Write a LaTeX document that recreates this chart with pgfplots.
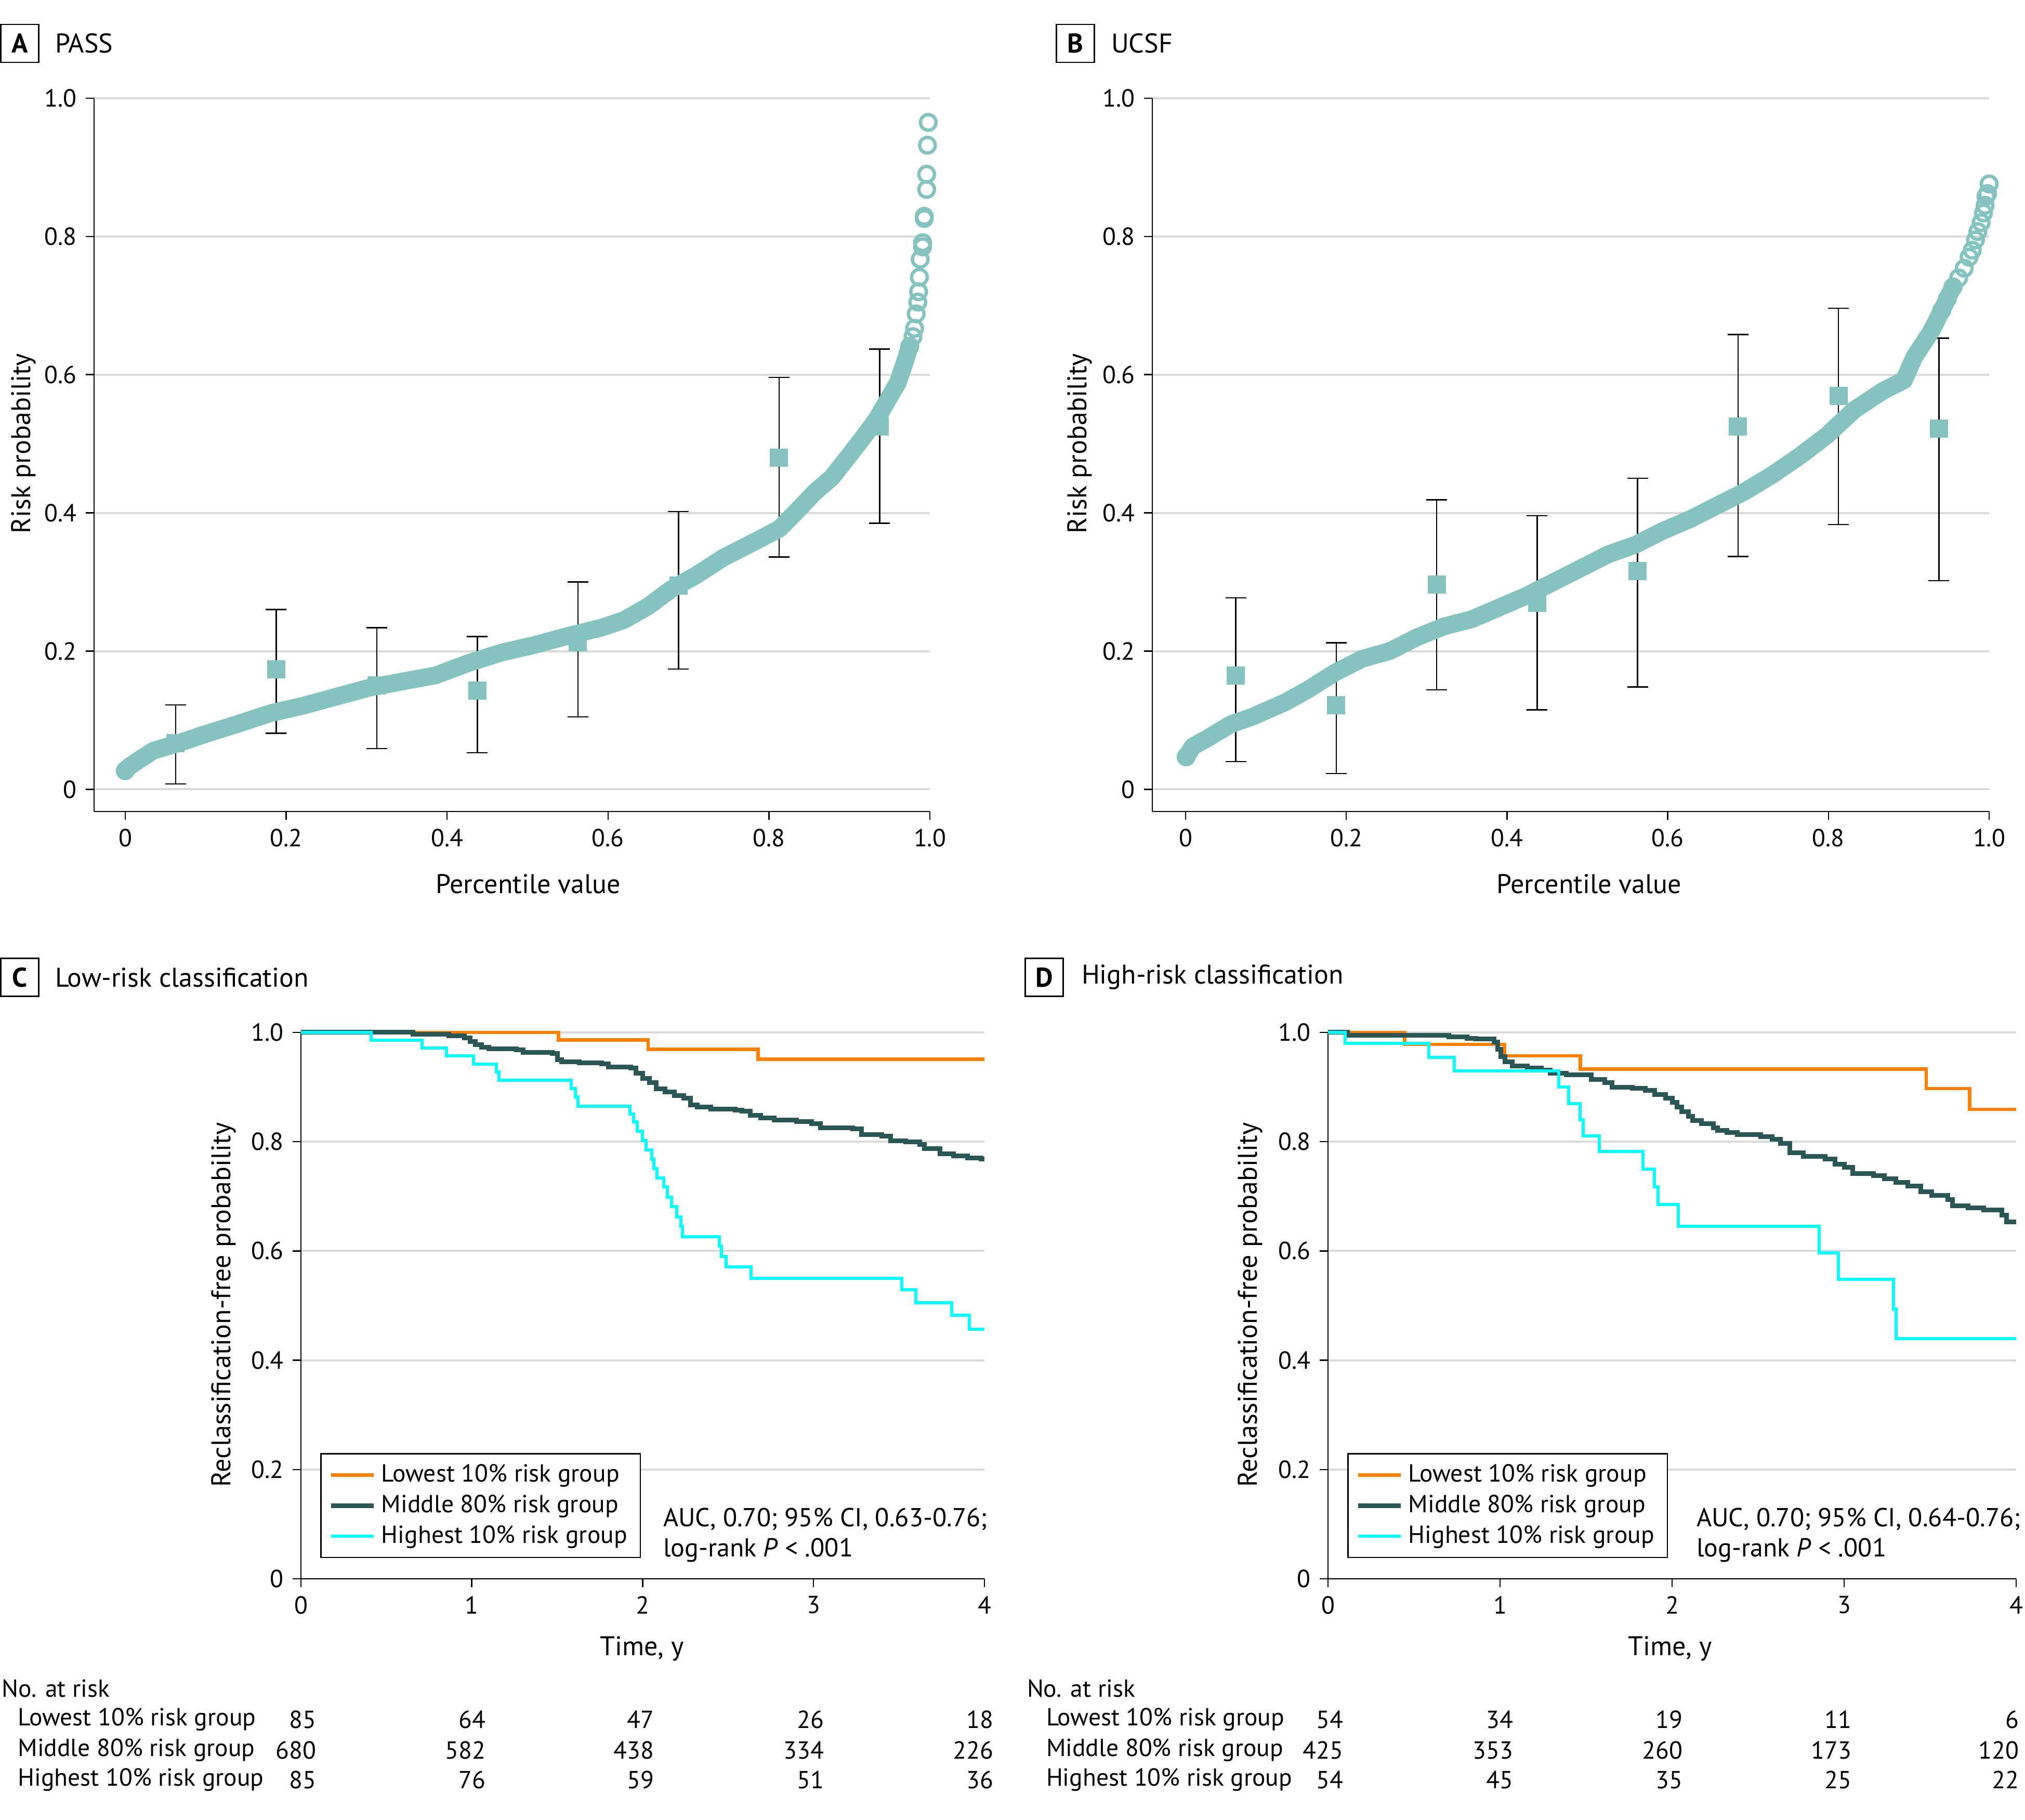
\documentclass[border=0pt]{standalone}
\usepackage{fontspec}
\setmainfont{PT Sans}
\usepackage{pgfplots}
\pgfplotsset{compat=1.18}
\definecolor{tealc}{HTML}{85C3C1}
\definecolor{orangec}{HTML}{FF8000}
\definecolor{cyanc}{HTML}{00FFFF}
\definecolor{slatec}{HTML}{2A5655}
\definecolor{gridc}{HTML}{D9D9D9}
\newcommand{\fs}{\fontsize{9.5}{11.6}\selectfont}
\newcommand{\fl}{\fontsize{10.4}{12.5}\selectfont}
\newcommand{\fa}{\fontsize{10}{11.6}\selectfont}
\pgfplotsset{
 base/.style={
  scale only axis, axis lines=left, axis line style={-, line width=0.5pt, black},
  tick align=outside, major tick length=3.2pt, tick style={black, line width=0.5pt},
  ymajorgrids, grid style={gridc, line width=0.8pt},
  clip=false, font=\fs,
  /pgf/number format/assume math mode=true,
  ytick={0,0.2,0.4,0.6,0.8,1.0},
  yticklabels={0,0.2,0.4,0.6,0.8,1.0},
 },
 scat/.style={base, width=321.6pt, height=274.4pt, xmax=1, ymin=-0.032, ymax=1,
  xtick={0,0.2,0.4,0.6,0.8,1.0}, xticklabels={0,0.2,0.4,0.6,0.8,1.0}},
 km/.style={base, height=210.2pt, xmin=0, xmax=4, ymin=0, ymax=1,
  xtick={0,1,2,3,4}, xticklabels={0,1,2,3,4},
  legend cell align=left,
  legend style={draw=black, line width=0.5pt, font=\fs, inner xsep=3pt, inner ysep=2pt,
    row sep=-0.5pt, anchor=south west},
  legend image code/.code={\path (0pt,0pt) -- (16.5pt,0pt);\draw[##1] (2.5pt,0pt) -- (14.5pt,0pt);}},
 band/.style={tealc, line width=6.8pt, line cap=round, line join=round},
 circ/.style={only marks, mark=o, mark size=3pt, mark options={tealc, line width=1.3pt}},
 sq/.style={only marks, mark=square*, mark size=3.3pt, mark options={tealc, draw=tealc},
  error bars/.cd, y dir=both, y explicit, error mark=-,
  error bar style={black, line width=0.5pt},
  error mark options={black, line width=0.5pt, mark size=4pt, rotate=90}},
}
\begin{document}
\begin{tikzpicture}
\useasboundingbox (0,0) rectangle (779.2pt,700.2pt);

% ---------- Panel A ----------
\begin{axis}[scat, at={(36.2pt,388pt)}, anchor=south west, xmin=-0.0388]
\addplot[sq] table[x=x, y=y, y error plus=ep, y error minus=em] {
x y ep em
0.0625 0.067 0.055 0.059
0.1875 0.174 0.086 0.093
0.3125 0.150 0.084 0.091
0.4375 0.143 0.078 0.090
0.5625 0.213 0.087 0.108
0.6875 0.295 0.107 0.121
0.8125 0.480 0.116 0.144
0.9375 0.525 0.112 0.140
};
\addplot[band] coordinates {
(0,0.027) (0.005,0.033) (0.015,0.041) (0.035,0.056) (0.064,0.066) (0.097,0.079)
(0.138,0.094) (0.18,0.11) (0.221,0.121) (0.262,0.134) (0.303,0.147) (0.344,0.156)
(0.386,0.165) (0.427,0.183) (0.468,0.198) (0.509,0.209) (0.55,0.222) (0.592,0.234)
(0.62,0.245) (0.65,0.265) (0.679,0.29) (0.71,0.31) (0.743,0.335) (0.78,0.357)
(0.813,0.377) (0.835,0.403) (0.857,0.43) (0.878,0.451) (0.899,0.482) (0.917,0.509)
(0.934,0.536) (0.947,0.562) (0.96,0.588) (0.968,0.615) (0.975,0.641)};
\addplot[circ] coordinates {
(0,0.027) (0.975,0.641) (0.979,0.655) (0.981,0.667) (0.983,0.688) (0.985,0.705) (0.986,0.72)
(0.987,0.741) (0.988,0.767) (0.991,0.785) (0.991,0.791) (0.993,0.826) (0.993,0.829)
(0.996,0.868) (0.996,0.89) (0.997,0.932) (0.998,0.965)};
\end{axis}

% ---------- Panel B ----------
\begin{axis}[scat, at={(443.4pt,388pt)}, anchor=south west, width=322pt, xmin=-0.0414]
\addplot[sq] table[x=x, y=y, y error plus=ep, y error minus=em] {
x y ep em
0.0625 0.165 0.112 0.125
0.1875 0.122 0.090 0.099
0.3125 0.296 0.123 0.152
0.4375 0.270 0.126 0.155
0.5625 0.316 0.134 0.168
0.6875 0.525 0.133 0.188
0.8125 0.569 0.127 0.186
0.9375 0.522 0.131 0.220
};
\addplot[band] coordinates {
(0.0007,0.047) (0.009,0.062) (0.029,0.075) (0.056,0.094) (0.083,0.105) (0.124,0.126)
(0.152,0.144) (0.186,0.169) (0.22,0.189) (0.254,0.2) (0.288,0.22) (0.322,0.236)
(0.356,0.246) (0.39,0.263) (0.424,0.28) (0.458,0.3) (0.492,0.32) (0.526,0.34)
(0.56,0.354) (0.594,0.374) (0.628,0.391) (0.662,0.411) (0.696,0.431) (0.73,0.455)
(0.764,0.482) (0.798,0.512) (0.832,0.549) (0.867,0.576) (0.894,0.592) (0.907,0.626)
(0.928,0.663) (0.941,0.693) (0.955,0.727)};
\addplot[circ] coordinates {
(0.0007,0.047) (0.941,0.693) (0.948,0.71) (0.955,0.727) (0.962,0.74) (0.969,0.754) (0.975,0.77)
(0.979,0.78) (0.983,0.795) (0.986,0.807) (0.99,0.82) (0.993,0.834) (0.995,0.845)
(0.996,0.858) (0.998,0.862) (1.0,0.876)};
\end{axis}

% ---------- Panel C ----------
\begin{axis}[km, at={(115.8pt,92.8pt)}, anchor=south west, width=263pt,
  legend style={at={(axis cs:0.113,0.038)}}]
\addplot[const plot mark left, orangec, line width=1.3pt] coordinates {
(0,1) (1.507,0.986) (2.032,0.969) (2.676,0.951) (4,0.951)};
\addlegendentry{Lowest 10\% risk group}
\addplot[const plot mark left, slatec, line width=1.8pt] coordinates {
(0,1) (0.655,0.997) (0.866,0.994) (0.958,0.99) (0.99,0.983) (1.02,0.978) (1.056,0.973)
(1.10,0.97) (1.26,0.968) (1.30,0.963) (1.47,0.961) (1.50,0.95) (1.525,0.946) (1.63,0.944)
(1.76,0.942) (1.80,0.937) (1.93,0.935) (1.96,0.925) (2.0,0.916) (2.04,0.908) (2.08,0.897)
(2.13,0.891) (2.185,0.884) (2.24,0.88) (2.28,0.867) (2.32,0.863) (2.40,0.86) (2.54,0.858)
(2.58,0.856) (2.63,0.848) (2.69,0.843) (2.77,0.84) (2.9,0.837) (2.99,0.833) (3.04,0.825)
(3.23,0.823) (3.28,0.813) (3.40,0.81) (3.45,0.802) (3.54,0.80) (3.62,0.795) (3.65,0.787)
(3.74,0.778) (3.82,0.774) (3.9,0.77) (3.98,0.768) (4.0,0.768)};
\addlegendentry{Middle 80\% risk group}
\addplot[const plot mark left, cyanc, line width=1.2pt] coordinates {
(0,1) (0.41,0.986) (0.708,0.971) (0.853,0.957) (1.01,0.942) (1.143,0.928) (1.16,0.912)
(1.583,0.897) (1.605,0.882) (1.62,0.865) (1.926,0.851) (1.947,0.836) (1.968,0.819)
(2.0,0.802) (2.02,0.785) (2.053,0.768) (2.066,0.751) (2.085,0.734) (2.122,0.717)
(2.145,0.698) (2.17,0.681) (2.2,0.662) (2.225,0.645) (2.233,0.626) (2.449,0.609)
(2.462,0.59) (2.488,0.571) (2.633,0.55) (3.517,0.529) (3.597,0.505) (3.808,0.482)
(3.913,0.457) (4,0.457)};
\addlegendentry{Highest 10\% risk group}
\end{axis}

% ---------- Panel D ----------
\begin{axis}[km, at={(511pt,92.8pt)}, anchor=south west, width=264.8pt,
  legend style={at={(axis cs:0.112,0.038)}}]
\addplot[const plot mark left, orangec, line width=1.3pt] coordinates {
(0,1) (0.445,0.978) (1.025,0.957) (1.466,0.933) (3.477,0.897) (3.729,0.859) (4,0.859)};
\addlegendentry{Lowest 10\% risk group}
\addplot[const plot mark left, slatec, line width=1.8pt] coordinates {
(0,1) (0.112,0.995) (0.702,0.992) (0.808,0.989) (0.86,0.988) (0.965,0.982) (0.986,0.969)
(1.005,0.956) (1.03,0.946) (1.07,0.939) (1.16,0.935) (1.24,0.931) (1.29,0.925) (1.385,0.922)
(1.53,0.914) (1.61,0.908) (1.65,0.9) (1.77,0.898) (1.845,0.894) (1.90,0.886) (1.963,0.88)
(2.0,0.872) (2.03,0.863) (2.055,0.855) (2.094,0.846) (2.12,0.839) (2.17,0.833) (2.24,0.825)
(2.265,0.821) (2.32,0.817) (2.38,0.813) (2.515,0.809) (2.58,0.804) (2.63,0.797) (2.684,0.78)
(2.763,0.773) (2.89,0.768) (2.947,0.759) (3.0,0.753) (3.05,0.742) (3.17,0.738) (3.235,0.732)
(3.3,0.725) (3.37,0.719) (3.445,0.708) (3.51,0.702) (3.603,0.694) (3.63,0.683) (3.72,0.679)
(3.81,0.675) (3.918,0.666) (3.945,0.653) (4,0.653)};
\addlegendentry{Middle 80\% risk group}
\addplot[const plot mark left, cyanc, line width=1.2pt] coordinates {
(0,1) (0.099,0.98) (0.585,0.954) (0.734,0.93) (1.34,0.9) (1.40,0.87) (1.464,0.84)
(1.482,0.811) (1.577,0.782) (1.831,0.75) (1.897,0.717) (1.918,0.685) (2.036,0.645)
(2.855,0.597) (2.968,0.548) (3.288,0.494) (3.301,0.44) (4,0.44)};
\addlegendentry{Highest 10\% risk group}
\end{axis}

% ---------- Text ----------
\tikzset{lab/.style={draw, line width=0.5pt, minimum width=14.6pt, minimum height=14.6pt, inner sep=0pt, font=\fl\bfseries}}
\node[lab] at (7.6pt,683.5pt) {A};
\node[anchor=west, font=\fl, inner sep=0pt] at (21pt,683.5pt) {PASS};
\node[lab] at (413.8pt,683.5pt) {B};
\node[anchor=west, font=\fl, inner sep=0pt] at (427.4pt,683.5pt) {UCSF};
\node[lab] at (7.6pt,324.2pt) {C};
\node[anchor=west, font=\fl, inner sep=0pt] at (21pt,324.2pt) {Low-risk classification};
\node[lab] at (401.8pt,324.2pt) {D};
\node[anchor=west, font=\fl, inner sep=0pt] at (416pt,324.2pt) {High-risk classification};

\node[rotate=90, font=\fl] at (9pt,529.6pt) {Risk probability};
\node[font=\fl] at (203.2pt,360.2pt) {Percentile value};
\node[rotate=90, font=\fl] at (415.4pt,529.6pt) {Risk probability};
\node[font=\fl] at (611.4pt,360.2pt) {Percentile value};
\node[rotate=90, font=\fl] at (86pt,198.2pt) {Reclassification-free probability};
\node[font=\fl] at (247pt,66pt) {Time, y};
\node[rotate=90, font=\fl] at (481pt,198.2pt) {Reclassification-free probability};
\node[font=\fl] at (642.6pt,66pt) {Time, y};

\node[anchor=west, font=\fa, inner sep=0pt, align=left] at (255pt,109.5pt) {AUC, 0.70; 95\% CI, 0.63-0.76;\\log-rank \textit{P} < .001};
\node[anchor=west, font=\fa, inner sep=0pt, align=left] at (652.6pt,109.5pt) {AUC, 0.70; 95\% CI, 0.64-0.76;\\log-rank \textit{P} < .001};

% No. at risk C
\node[anchor=west, font=\fs, inner sep=0pt] at (0.5pt,50.6pt) {No. at risk};
\node[anchor=west, font=\fs, inner sep=0pt] at (6.7pt,38.6pt) {Lowest 10\% risk group};
\node[anchor=west, font=\fs, inner sep=0pt] at (6.7pt,26.8pt) {Middle 80\% risk group};
\node[anchor=west, font=\fs, inner sep=0pt] at (6.7pt,15.4pt) {Highest 10\% risk group};
\foreach \x/\a/\b/\c in {121.8/85/680/85, 187/64/582/76, 251.8/47/438/59, 317.2/26/334/51, 382.4/18/226/36}{
  \node[anchor=east, font=\fs, inner sep=0pt] at (\x pt,38.6pt) {\a};
  \node[anchor=east, font=\fs, inner sep=0pt] at (\x pt,26.8pt) {\b};
  \node[anchor=east, font=\fs, inner sep=0pt] at (\x pt,15.4pt) {\c};
}
% No. at risk D
\node[anchor=west, font=\fs, inner sep=0pt] at (395pt,50.6pt) {No. at risk};
\node[anchor=west, font=\fs, inner sep=0pt] at (402.4pt,38.6pt) {Lowest 10\% risk group};
\node[anchor=west, font=\fs, inner sep=0pt] at (402.4pt,26.8pt) {Middle 80\% risk group};
\node[anchor=west, font=\fs, inner sep=0pt] at (402.4pt,15.4pt) {Highest 10\% risk group};
\foreach \x/\a/\b/\c in {517/54/425/54, 582.4/34/353/45, 647.6/19/260/35, 712.6/11/173/25, 777/6/120/22}{
  \node[anchor=east, font=\fs, inner sep=0pt] at (\x pt,38.6pt) {\a};
  \node[anchor=east, font=\fs, inner sep=0pt] at (\x pt,26.8pt) {\b};
  \node[anchor=east, font=\fs, inner sep=0pt] at (\x pt,15.4pt) {\c};
}
\end{tikzpicture}
\end{document}
